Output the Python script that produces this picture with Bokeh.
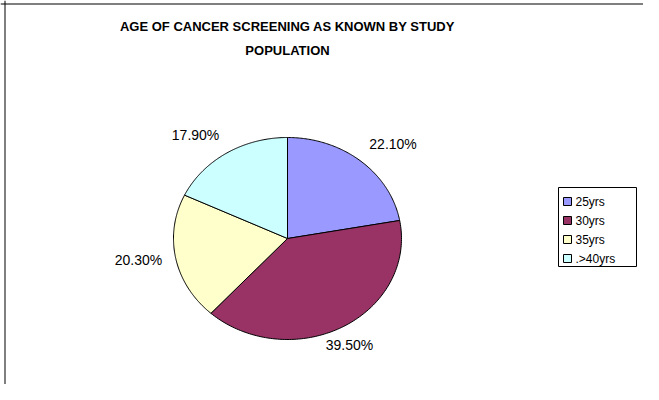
import numpy as np
from bokeh.plotting import figure
from bokeh.models import ColumnDataSource, Range1d, Span
from bokeh.core.properties import value
from bokeh.embed import file_html
from bokeh.resources import INLINE

# ---- data ----
categories = ["25yrs", "30yrs", "35yrs", ".>40yrs"]
shares = [22.1, 39.5, 20.3, 17.9]
colors = ["#9999FF", "#993366", "#FFFFCC", "#CCFFFF"]
labels = ["22.10%", "39.50%", "20.30%", "17.90%"]
title_lines = ["AGE OF CANCER SCREENING AS KNOWN BY STUDY", "POPULATION"]

FONT = "Liberation Sans"

# ---- figure in pixel coordinates ----
W, H = 643, 384
p = figure(width=W, height=H, output_backend="svg", toolbar_location=None,
           x_range=Range1d(0, W), y_range=Range1d(H, 0),
           min_border=0, outline_line_color=None)
p.axis.visible = False
p.grid.visible = False
p.background_fill_color = "white"
p.border_fill_color = "white"

# chart area border (left / top)
p.add_layout(Span(location=4.5, dimension="height", line_color="black", line_width=1))
p.add_layout(Span(location=3.5, dimension="width", line_color="black", line_width=1))

# ---- pie (elliptical, starting at 12 o'clock, clockwise) ----
cx, cy, rx, ry = 287, 238, 114, 101
vals = np.array(shares, dtype=float)
frac = vals / vals.sum()
edges = np.concatenate([[0.0], np.cumsum(frac)]) * 2 * np.pi
xs, ys = [], []
for a0, a1 in zip(edges[:-1], edges[1:]):
    t = np.linspace(a0, a1, 120)
    xs.append([cx] + list(cx + rx * np.sin(t)) + [cx])
    ys.append([cy] + list(cy - ry * np.cos(t)) + [cy])
src = ColumnDataSource(dict(xs=xs, ys=ys, color=colors))
p.patches("xs", "ys", source=src, fill_color="color", line_color="black", line_width=1)

# ---- data labels ----
mid = (edges[:-1] + edges[1:]) / 2
f = 1.12
lx = cx + f * rx * np.sin(mid)
ly = cy - f * ry * np.cos(mid)
aligns = ["left" if s > 0.5 else ("right" if s < -0.5 else "center") for s in np.sin(mid)]
bases = ["bottom" if c > 0.3 else ("top" if c < -0.3 else "middle") for c in np.cos(mid)]
lsrc = ColumnDataSource(dict(x=lx, y=ly, t=labels, a=aligns, b=bases))
p.text("x", "y", text="t", source=lsrc, text_align="a", text_baseline="b",
       text_font=value(FONT), text_font_size="14px", text_color="black")

# ---- title ----
tsrc = ColumnDataSource(dict(x=[287, 287], y=[26, 50], t=title_lines))
p.text("x", "y", text="t", source=tsrc, text_align="center", text_baseline="middle",
       text_font=value(FONT), text_font_size="13px", text_font_style="bold",
       text_color="black")

# ---- legend ----
lg_x0, lg_y0, lg_w, lg_h = 558, 187, 78, 79
step = 19
p.quad(left=[lg_x0], right=[lg_x0 + lg_w], top=[lg_y0], bottom=[lg_y0 + lg_h],
       fill_color="white", line_color="black", line_width=1)
idx = np.arange(len(categories))
iy = lg_y0 + 14 + idx * step
gsrc = ColumnDataSource(dict(x=np.full(len(idx), lg_x0 + 9.0), y=iy,
                             color=colors, t=categories,
                             tx=np.full(len(idx), lg_x0 + 17.0)))
p.rect("x", "y", width=8, height=8, source=gsrc, fill_color="color",
       line_color="black", line_width=1)
p.text("tx", "y", text="t", source=gsrc, text_align="left", text_baseline="middle",
       text_font=value(FONT), text_font_size="12px", text_color="black")

open("out.html", "w").write(file_html(p, INLINE))
